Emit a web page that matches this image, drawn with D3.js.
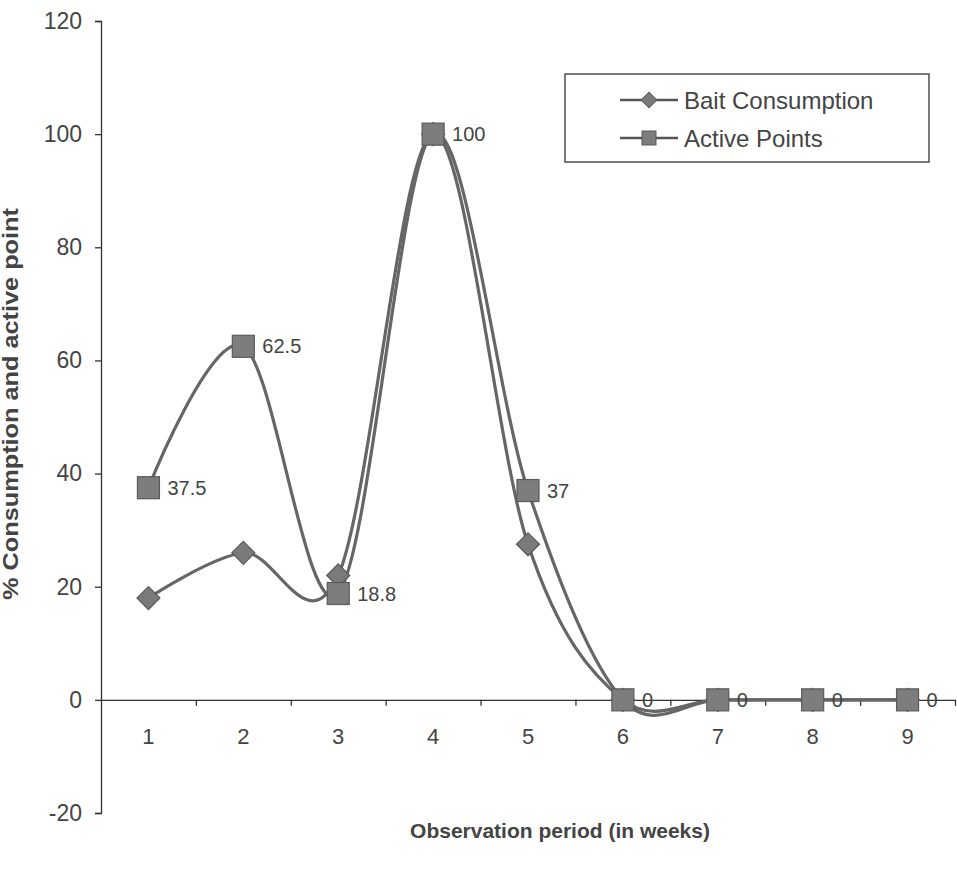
<!DOCTYPE html>
<html>
    <head>
        <meta charset="utf-8">
        <style>
            body { margin: 0; background: #fff; }
            text { font-family: "Liberation Sans", Arial, sans-serif; fill: #444; }
        </style>
    </head>
    <body>
        <script src="https://d3js.org/d3.v7.min.js"></script>
        <script>
            const weeks = ["1", "2", "3", "4", "5", "6", "7", "8", "9"]
            const baitConsumption = [18, 26, 22, 100, 27.5, 0, 0, 0, 0]
            const activePoints = [37.5, 62.5, 18.8, 100, 37, 0, 0, 0, 0]
            const activeLabels = ["37.5", "62.5", "18.8", "100", "37", "0", "0", "0", "0"]
            const yTicks = [-20, 0, 20, 40, 60, 80, 100, 120]

            const w = 957
            const h = 877

            const svg = d3.select("body").append("svg").attr("width", w).attr("height", h)

            const x = d3.scaleBand().domain(weeks).range([101, 955])
            const xEdge = d3.scaleLinear().domain([0, 9]).range([101, 955])
            const y = d3.scaleLinear().domain([-20, 120]).range([813, 21])
            const cx = d => x(d) + x.bandwidth() / 2

            // y axis
            svg.append("g")
                .attr("transform", "translate(101,0)")
                .call(d3.axisLeft(y).tickValues(yTicks).tickFormat(d => String(d)).tickSize(6).tickPadding(13))
                .selectAll("text").style("font-size", "23px")

            // x axis along zero, ticks between categories
            svg.append("g")
                .attr("transform", "translate(0," + y(0) + ")")
                .call(d3.axisBottom(xEdge).tickValues(d3.range(1, 10)).tickFormat("").tickSize(6).tickSizeOuter(0))
            svg.append("g")
                .attr("transform", "translate(0," + y(0) + ")")
                .call(d3.axisBottom(x).tickSize(0).tickPadding(29))
                .call(g => g.select(".domain").remove())
                .selectAll("text").style("font-size", "22px")

            svg.selectAll(".domain, .tick line").attr("stroke", "#333").attr("stroke-width", 1.3)

            // titles
            svg.append("text")
                .attr("transform", "translate(18,404) rotate(-90) scale(1.15,1)")
                .attr("text-anchor", "middle")
                .style("font-size", "22px").style("font-weight", "bold")
                .text("% Consumption and active point")
            svg.append("text")
                .attr("x", 560).attr("y", 838)
                .attr("text-anchor", "middle")
                .style("font-size", "21px").style("font-weight", "bold")
                .text("Observation period (in weeks)")

            const line = d3.line()
                .x((d, i) => cx(weeks[i]))
                .y(d => y(d))
                .curve(d3.curveCardinal.tension(0))

            const lineColor = "#666"
            svg.append("path").datum(baitConsumption).attr("d", line)
                .attr("fill", "none").attr("stroke", lineColor).attr("stroke-width", 3.2)
            svg.append("path").datum(activePoints).attr("d", line)
                .attr("fill", "none").attr("stroke", lineColor).attr("stroke-width", 3.2)

            const diamond = d3.symbol().type(d3.symbolSquare).size(265)
            svg.selectAll(".bait").data(baitConsumption).enter().append("path")
                .attr("class", "bait")
                .attr("d", diamond)
                .attr("transform", (d, i) => "translate(" + cx(weeks[i]) + "," + y(d) + ") rotate(45)")
                .attr("fill", "#7a7a7a").attr("stroke", "#5a5a5a").attr("stroke-width", 1.2)

            const sq = 22
            svg.selectAll(".active").data(activePoints).enter().append("rect")
                .attr("class", "active")
                .attr("x", (d, i) => cx(weeks[i]) - sq / 2)
                .attr("y", d => y(d) - sq / 2)
                .attr("width", sq).attr("height", sq)
                .attr("fill", "#7d7d7d").attr("stroke", "#5a5a5a").attr("stroke-width", 1.2)

            svg.selectAll(".lab").data(activePoints).enter().append("text")
                .attr("class", "lab")
                .attr("x", (d, i) => cx(weeks[i]) + 19)
                .attr("y", d => y(d))
                .attr("dy", "0.36em")
                .style("font-size", "20px")
                .text((d, i) => activeLabels[i])

            // legend
            const legend = svg.append("g")
            legend.append("rect")
                .attr("x", 565).attr("y", 74).attr("width", 364).attr("height", 88)
                .attr("fill", "#fff").attr("stroke", "#333").attr("stroke-width", 1.3)
            const legendDiamond = d3.symbol().type(d3.symbolSquare).size(120)
            const items = [["Bait Consumption", "bait"], ["Active Points", "active"]]
            items.forEach((it, i) => {
                const ly = 100 + i * 38
                legend.append("line").attr("x1", 620).attr("x2", 678).attr("y1", ly).attr("y2", ly)
                    .attr("stroke", "#555").attr("stroke-width", 2.5)
                if (it[1] === "bait") {
                    legend.append("path").attr("d", legendDiamond)
                        .attr("transform", "translate(649," + ly + ") rotate(45)")
                        .attr("fill", "#7a7a7a").attr("stroke", "#5a5a5a")
                } else {
                    legend.append("rect").attr("x", 649 - 7).attr("y", ly - 7).attr("width", 14).attr("height", 14)
                        .attr("fill", "#7d7d7d").attr("stroke", "#5a5a5a")
                }
                legend.append("text").attr("x", 684).attr("y", ly).attr("dy", "0.36em")
                    .style("font-size", "24px").text(it[0])
            })
        </script>
    </body>
</html>
